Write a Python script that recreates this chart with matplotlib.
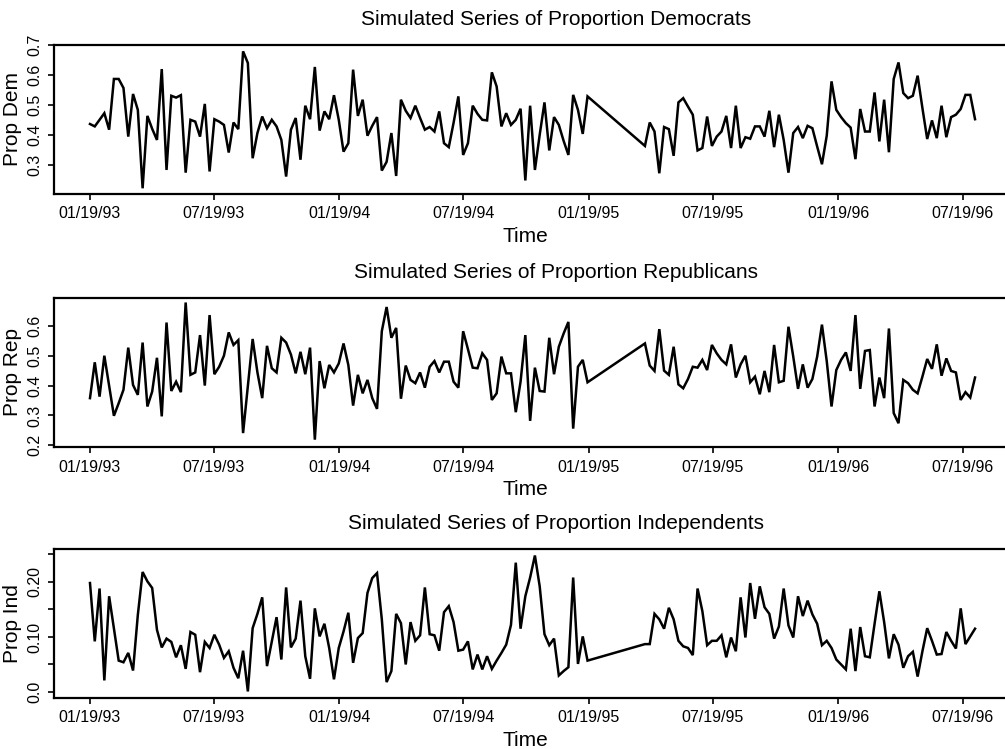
import pandas as pd
import matplotlib
matplotlib.use("Agg")
import matplotlib.pyplot as plt
import matplotlib.dates as mdates

plt.rcParams['font.family'] = ['Liberation Sans', 'DejaVu Sans']

# weekly poll dates, no polls from mid January to April 1995
poll_dates = pd.date_range("1993-01-19", "1995-01-17", freq="7D").append(
    pd.date_range("1995-04-11", "1996-08-06", freq="7D"))

prop_dem = [
    0.436, 0.428, 0.450, 0.472, 0.417, 0.586, 0.586, 0.556, 0.394, 0.536,
    0.483, 0.222, 0.463, 0.420, 0.383, 0.619, 0.283, 0.530, 0.524, 0.532,
    0.274, 0.450, 0.444, 0.394, 0.503, 0.278, 0.452, 0.444, 0.433, 0.341,
    0.441, 0.419, 0.678, 0.639, 0.322, 0.406, 0.461, 0.422, 0.450, 0.428,
    0.383, 0.261, 0.417, 0.456, 0.317, 0.497, 0.452, 0.626, 0.414, 0.478,
    0.452, 0.532, 0.450, 0.344, 0.372, 0.617, 0.463, 0.517, 0.397, 0.430,
    0.459, 0.281, 0.310, 0.406, 0.263, 0.517, 0.480, 0.456, 0.497, 0.456,
    0.417, 0.426, 0.411, 0.478, 0.372, 0.359, 0.440, 0.528, 0.333, 0.372,
    0.497, 0.470, 0.450, 0.448, 0.608, 0.561, 0.428, 0.472, 0.433, 0.450,
    0.487, 0.248, 0.497, 0.283, 0.400, 0.508, 0.348, 0.459, 0.433, 0.380,
    0.333, 0.533, 0.483, 0.403, 0.528,
    0.363, 0.441, 0.411, 0.272, 0.426, 0.419, 0.330, 0.508, 0.522, 0.494,
    0.467, 0.348, 0.356, 0.461, 0.363, 0.394, 0.411, 0.463, 0.356, 0.497,
    0.356, 0.392, 0.387, 0.428, 0.428, 0.394, 0.480, 0.359, 0.467, 0.383,
    0.274, 0.406, 0.426, 0.389, 0.430, 0.422, 0.361, 0.302, 0.397, 0.578,
    0.483, 0.459, 0.439, 0.424, 0.319, 0.486, 0.411, 0.411, 0.541, 0.378,
    0.517, 0.342, 0.586, 0.641, 0.539, 0.522, 0.530, 0.597, 0.489, 0.386,
    0.448, 0.389, 0.497, 0.392, 0.459, 0.467, 0.486, 0.533, 0.533, 0.452,
]

prop_rep = [
    0.358, 0.478, 0.363, 0.500, 0.400, 0.299, 0.341, 0.386, 0.527, 0.402,
    0.369, 0.544, 0.330, 0.380, 0.493, 0.297, 0.611, 0.382, 0.413, 0.378,
    0.678, 0.436, 0.444, 0.569, 0.400, 0.636, 0.438, 0.463, 0.500, 0.578,
    0.536, 0.552, 0.241, 0.397, 0.556, 0.444, 0.358, 0.533, 0.458, 0.444,
    0.560, 0.544, 0.504, 0.441, 0.513, 0.438, 0.527, 0.219, 0.482, 0.391,
    0.469, 0.444, 0.474, 0.541, 0.469, 0.333, 0.436, 0.374, 0.419, 0.358,
    0.322, 0.582, 0.663, 0.560, 0.593, 0.356, 0.467, 0.419, 0.408, 0.444,
    0.393, 0.463, 0.482, 0.444, 0.480, 0.480, 0.413, 0.393, 0.582, 0.522,
    0.460, 0.458, 0.508, 0.486, 0.352, 0.374, 0.497, 0.441, 0.441, 0.311,
    0.413, 0.569, 0.282, 0.460, 0.382, 0.380, 0.560, 0.438, 0.530, 0.574,
    0.613, 0.256, 0.463, 0.486, 0.411,
    0.541, 0.467, 0.449, 0.589, 0.450, 0.436, 0.530, 0.404, 0.391, 0.422,
    0.463, 0.460, 0.486, 0.452, 0.536, 0.508, 0.486, 0.471, 0.538, 0.427,
    0.471, 0.500, 0.411, 0.430, 0.371, 0.449, 0.378, 0.536, 0.411, 0.416,
    0.597, 0.497, 0.389, 0.471, 0.393, 0.422, 0.497, 0.604, 0.482, 0.330,
    0.452, 0.486, 0.511, 0.449, 0.636, 0.389, 0.516, 0.519, 0.330, 0.427,
    0.358, 0.591, 0.308, 0.274, 0.419, 0.408, 0.386, 0.374, 0.430, 0.489,
    0.456, 0.538, 0.433, 0.491, 0.449, 0.444, 0.352, 0.378, 0.360, 0.427,
]

prop_ind = [
    0.198, 0.092, 0.188, 0.021, 0.174, 0.115, 0.057, 0.054, 0.071, 0.039,
    0.140, 0.218, 0.201, 0.189, 0.113, 0.081, 0.097, 0.091, 0.063, 0.085,
    0.042, 0.109, 0.104, 0.036, 0.091, 0.080, 0.104, 0.086, 0.062, 0.074,
    0.044, 0.025, 0.075, 0.001, 0.116, 0.142, 0.172, 0.047, 0.092, 0.136,
    0.059, 0.190, 0.081, 0.097, 0.166, 0.065, 0.024, 0.152, 0.101, 0.124,
    0.080, 0.023, 0.080, 0.110, 0.144, 0.053, 0.098, 0.107, 0.180, 0.207,
    0.216, 0.132, 0.018, 0.038, 0.142, 0.125, 0.050, 0.127, 0.093, 0.103,
    0.190, 0.105, 0.103, 0.075, 0.145, 0.156, 0.127, 0.075, 0.077, 0.092,
    0.041, 0.068, 0.041, 0.065, 0.042, 0.057, 0.071, 0.086, 0.122, 0.235,
    0.115, 0.174, 0.208, 0.248, 0.192, 0.105, 0.085, 0.097, 0.030, 0.038,
    0.045, 0.208, 0.051, 0.101, 0.057,
    0.087, 0.087, 0.142, 0.132, 0.115, 0.153, 0.132, 0.093, 0.083, 0.080,
    0.067, 0.188, 0.147, 0.085, 0.093, 0.093, 0.103, 0.063, 0.099, 0.074,
    0.172, 0.099, 0.198, 0.133, 0.192, 0.154, 0.142, 0.097, 0.119, 0.188,
    0.121, 0.099, 0.174, 0.138, 0.166, 0.141, 0.124, 0.085, 0.093, 0.080,
    0.059, 0.050, 0.041, 0.115, 0.038, 0.118, 0.065, 0.063, 0.124, 0.183,
    0.127, 0.061, 0.105, 0.086, 0.044, 0.065, 0.073, 0.028, 0.074, 0.116,
    0.093, 0.068, 0.069, 0.109, 0.093, 0.079, 0.152, 0.087, 0.101, 0.115,
]

tick_dates = pd.date_range("1993-01-19", periods=8, freq=pd.DateOffset(months=6))

panels = [
    (prop_dem, "Prop Dem", "Simulated Series of Proportion Democrats",
     (0.203, 0.7005), [0.3, 0.4, 0.5, 0.6, 0.7],
     ["0.3", "0.4", "0.5", "0.6", "0.7"], 0.741),
    (prop_rep, "Prop Rep", "Simulated Series of Proportion Republicans",
     (0.1945, 0.6945), [0.2, 0.3, 0.4, 0.5, 0.6],
     ["0.2", "0.3", "0.4", "0.5", "0.6"], 0.4032),
    (prop_ind, "Prop Ind", "Simulated Series of Proportion Independents",
     (-0.0109, 0.2606), [0.0, 0.05, 0.10, 0.15, 0.20, 0.25],
     ["0.0", "", "0.10", "", "0.20", ""], 0.0681),
]

t0 = mdates.date2num(pd.Timestamp("1993-01-19"))

fig = plt.figure(figsize=(10.05, 7.49), dpi=100)

for values, ylab, title, ylim, yticks, ylabels, bottom in panels:
    # the plot frame runs past the right edge of the page
    ax = fig.add_axes([0.0537, bottom, 1.0, 0.1995])
    ax.plot(poll_dates, values, color="black", linewidth=1.8,
            solid_joinstyle="miter")
    ax.set_xlim(t0 - 52.7, t0 + 1417.8)
    ax.set_ylim(*ylim)

    ax.set_xticks(mdates.date2num(tick_dates))
    ax.xaxis.set_major_formatter(mdates.DateFormatter("%m/%d/%y"))
    ax.set_yticks(yticks)
    ax.set_yticklabels(ylabels, rotation=90, va="center")

    ax.tick_params(direction="out", length=4, width=1.2, labelsize=11.5,
                   pad=5, colors="black")
    ax.tick_params(axis="y", pad=4)
    for side in ax.spines.values():
        side.set_linewidth(1.6)

    ax.set_title(title, fontsize=15, pad=14)
    ax.set_xlabel("Time", fontsize=15)
    ax.xaxis.set_label_coords(0.469, -0.22)
    ax.set_ylabel(ylab, fontsize=15)
    ax.yaxis.set_label_coords(-0.032, 0.5)

fig.savefig("out.png", dpi=100)
